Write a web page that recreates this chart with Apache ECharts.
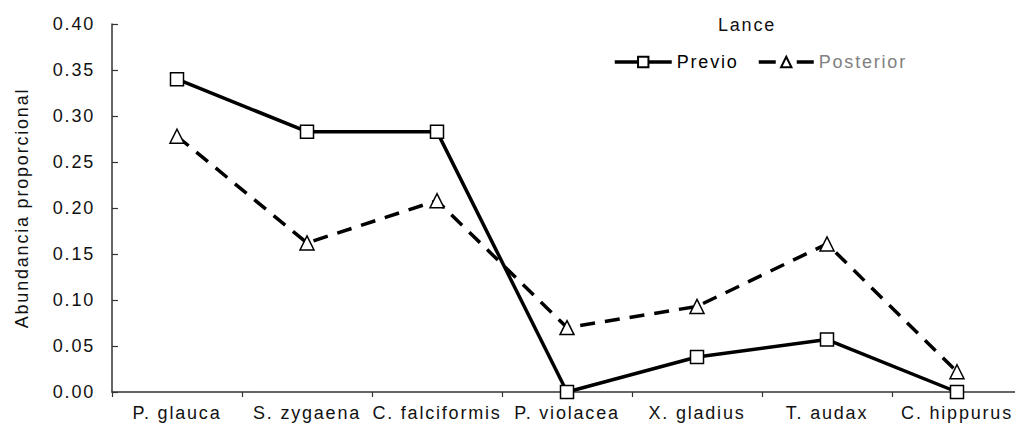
<!DOCTYPE html>
<html><head><meta charset="utf-8">
<script src="https://cdn.jsdelivr.net/npm/echarts@6/dist/echarts.min.js"></script>
<style>
html,body{margin:0;padding:0;background:#fff;overflow:hidden}
#c{width:1030px;height:429px}
#c svg text{letter-spacing:1.8px}
</style>
</head><body><div id="c"></div>
<script>
const categories = ['P. glauca','S. zygaena','C. falciformis','P. violacea','X. gladius','T. audax','C. hippurus'];
const previo = [0.340, 0.283, 0.283, 0.000, 0.038, 0.057, 0.000];
const posterior = [0.278, 0.162, 0.208, 0.070, 0.093, 0.161, 0.022];
const yTicks = {min: 0, max: 0.40, interval: 0.05};

const font = 'Liberation Sans, Arial, sans-serif';
const fs = 18;
const chart = echarts.init(document.getElementById('c'), null, {renderer: 'svg'});
chart.setOption({
  animation: false,
  backgroundColor: '#fff',
  title: {text: 'Lance', left: 718, top: 16, padding: 0,
    textStyle: {fontFamily: font, fontSize: fs, fontWeight: 'normal', color: '#111'}},
  legend: [
    {left: 613, top: 53, padding: 0, itemWidth: 57, itemHeight: 13, itemGap: 0,
     lineStyle: {width: 3.5},
     textStyle: {fontFamily: font, fontSize: fs, color: '#000'}, data: ['Previo']},
    {left: 757, top: 53, padding: 0, itemWidth: 55, itemHeight: 13, itemGap: 0,
     lineStyle: {type: [17, 21], width: 3.5},
     textStyle: {fontFamily: font, fontSize: fs, color: '#808080'}, data: ['Posterior']}
  ],
  grid: {left: 112, top: 24, width: 910, bottom: 37, containLabel: false},
  xAxis: {
    type: 'category', data: categories, boundaryGap: true,
    axisLine: {lineStyle: {color: '#333', width: 1.5}},
    axisTick: {show: true, inside: false, length: 5, lineStyle: {color: '#333', width: 1.2}},
    axisLabel: {interval: 0, margin: 12, color: '#111', fontFamily: font, fontSize: fs}
  },
  yAxis: {
    type: 'value', min: yTicks.min, max: yTicks.max, interval: yTicks.interval,
    name: 'Abundancia proporcional', nameLocation: 'middle', nameGap: 81,
    nameTextStyle: {fontFamily: font, fontSize: fs, color: '#111'},
    axisLine: {show: true, lineStyle: {color: '#333', width: 1.5}},
    axisTick: {show: true, inside: true, length: 6, lineStyle: {color: '#333', width: 1.2}},
    splitLine: {show: false},
    axisLabel: {margin: 17, color: '#111', fontFamily: font, fontSize: fs, formatter: v => v.toFixed(2)}
  },
  series: [
    {name: 'Previo', type: 'line', data: previo, symbol: 'rect', symbolSize: 13,
     lineStyle: {color: '#000', width: 3.5}, itemStyle: {color: '#fff', borderColor: '#000', borderWidth: 1.5}, z: 3},
    {name: 'Posterior', type: 'line', data: posterior, symbol: 'triangle', symbolSize: 14,
     lineStyle: {color: '#000', width: 3.5, type: [15, 10]}, itemStyle: {color: '#fff', borderColor: '#000', borderWidth: 1.5}, z: 2}
  ]
});
</script></body></html>
